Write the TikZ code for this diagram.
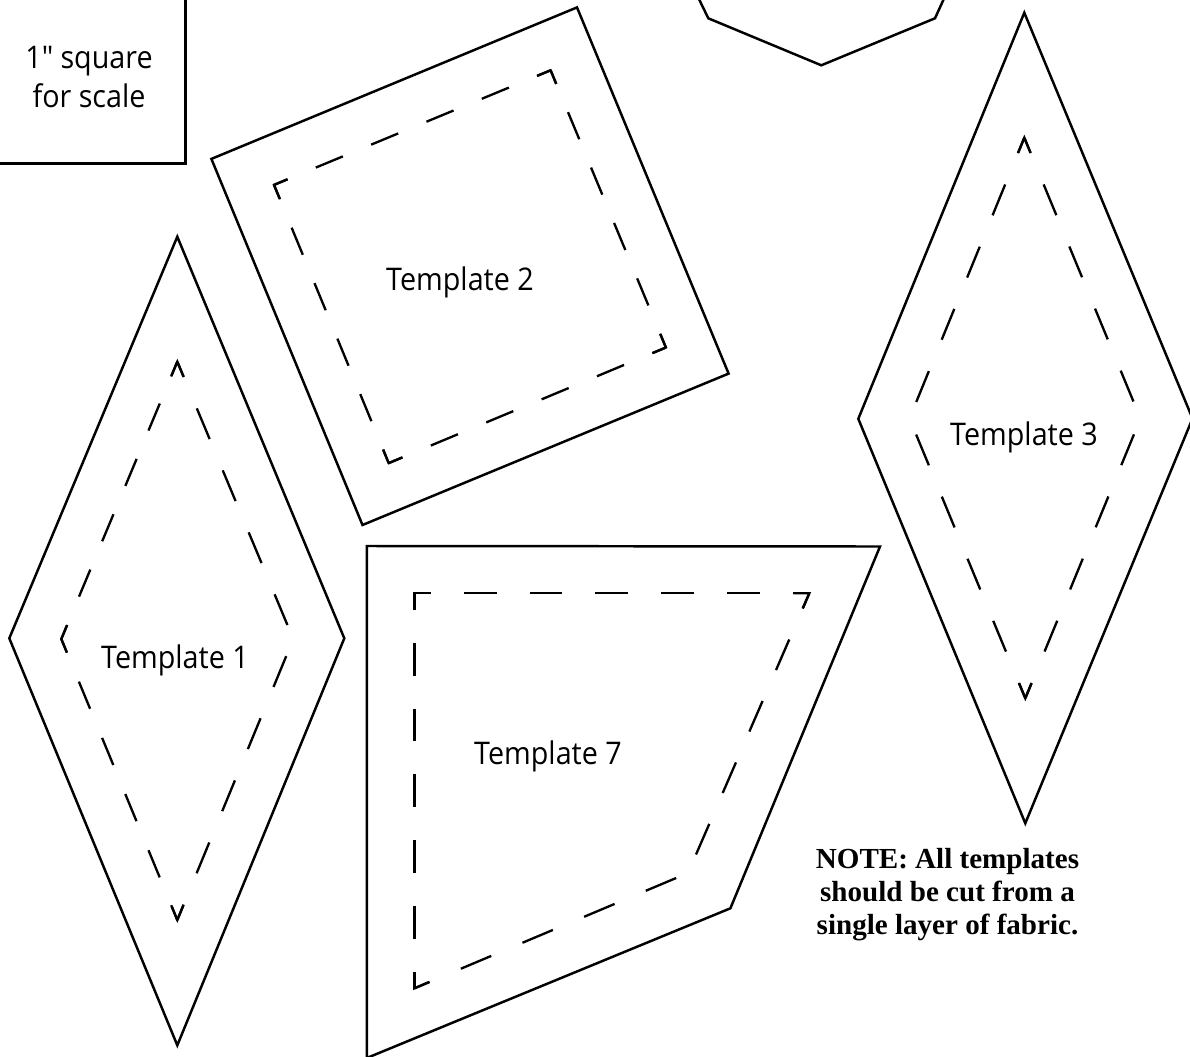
\documentclass[tikz,border=0pt]{standalone}
\usepackage{fontspec}
\usetikzlibrary{calc}
\setmainfont[FakeStretch=0.92]{Open Sans}
\newfontfamily\notefont{Liberation Serif}
\tikzset{
  outline/.style={draw=black,line width=1.85pt,miter limit=10,line join=miter},
  seamline/.style={draw=black,line width=1.75pt,line cap=butt},
  seamtick/.style={draw=black,line width=1.75pt,line cap=butt,line join=miter,miter limit=10},
  label/.style={anchor=base,inner sep=0pt,font=\fontsize{23.4pt}{28pt}\selectfont,text=black},
  notetext/.style={anchor=base,inner sep=0pt,font=\notefont\bfseries\fontsize{21.8pt}{25pt}\selectfont,text=black}
}
\newcommand\seamedge[4]{%
  \pgfmathsetmacro\seamon{#4*.75}%
  \pgfmathsetmacro\seamoff{(#3-#4)*.75}%
  \pgfmathsetmacro\seamph{#4*.375}%
  \draw[seamline,dash pattern=on \seamon pt off \seamoff pt,dash phase=\seamph pt] (#1) -- (#2);}
\newcommand\seamcorner[4]{%
  \draw[seamtick] ($(#2)!#4pt!(#1)$) -- (#2) -- ($(#2)!#4pt!(#3)$);}
\begin{document}
\begin{tikzpicture}[x=0.75pt,y=-0.75pt]
\clip (0,0) rectangle (1190,1057);
\fill[white] (0,0) rectangle (1190,1057);

% 1 inch square
\coordinate (sqa) at (-5,163.3);
\coordinate (sqb) at (185.3,163.3);
\coordinate (sqc) at (185.3,-5);
\draw[outline] (sqa) -- (sqb) -- (sqc);
\node[label] (sq1) at (89,68.8) {1″ square};
\node[label] (sq2) at (89,107) {for scale};

% partial shape at top
\coordinate (oa) at (697,-5);
\coordinate (ob) at (708.3,18.3);
\coordinate (oc) at (821.3,65.3);
\coordinate (od) at (935,18.3);
\coordinate (oe) at (945.6,-5);
\draw[outline] (oa) -- (ob) -- (oc) -- (od) -- (oe);

% Template 2
\coordinate (b1) at (577,7.4);
\coordinate (b2) at (728.6,373.6);
\coordinate (b3) at (362.5,525);
\coordinate (b4) at (211.4,158.9);
\draw[outline] (b1) -- (b2) -- (b3) -- (b4) -- cycle;
\coordinate (bi1) at (274,184.9);
\coordinate (bi2) at (550.6,70.3);
\coordinate (bi3) at (665.9,347.5);
\coordinate (bi4) at (388.7,463.1);
\seamedge{bi1}{bi2}{59.9}{29.3}
\seamedge{bi2}{bi3}{60}{29.3}
\seamedge{bi3}{bi4}{60}{29.3}
\seamedge{bi4}{bi1}{60}{29.3}
\seamcorner{bi4}{bi1}{bi2}{11}
\seamcorner{bi1}{bi2}{bi3}{11}
\seamcorner{bi2}{bi3}{bi4}{11}
\seamcorner{bi3}{bi4}{bi1}{11}
\node[label] (t2) at (460,290.5) {Template 2};

% Template 1
\coordinate (a1) at (177.3,236.7);
\coordinate (a2) at (344.3,638.3);
\coordinate (a3) at (177.3,1045.3);
\coordinate (a4) at (9.3,638.3);
\draw[outline] (a1) -- (a2) -- (a3) -- (a4) -- cycle;
\coordinate (ai1) at (177.3,361.7);
\coordinate (ai2) at (293.3,639);
\coordinate (ai3) at (177.3,920);
\coordinate (ai4) at (61.3,639);
\seamedge{ai1}{ai4}{60}{29.3}
\seamedge{ai3}{ai4}{60.8}{29.3}
\seamedge{ai1}{ai2}{67.2}{33.3}
\seamedge{ai3}{ai2}{67.2}{33.3}
\seamcorner{ai4}{ai1}{ai2}{12}
\seamcorner{ai2}{ai3}{ai4}{12}
\seamcorner{ai1}{ai4}{ai3}{11}
\node[label] (t1) at (175,668) {Template 1};

% Template 3
\coordinate (c1) at (1024.3,12.7);
\coordinate (c2) at (1192.5,418.5);
\coordinate (c3) at (1025.3,823.3);
\coordinate (c4) at (858.3,418.8);
\draw[outline] (c1) -- (c2) -- (c3) -- (c4) -- cycle;
\coordinate (ci1) at (1024.3,137.7);
\coordinate (ci2) at (1140.5,418.5);
\coordinate (ci3) at (1025.3,698.3);
\coordinate (ci4) at (909.5,418.5);
\seamedge{ci1}{ci2}{67.2}{33.3}
\seamedge{ci1}{ci4}{67.2}{33.3}
\seamedge{ci3}{ci2}{67.2}{33.3}
\seamedge{ci3}{ci4}{67.2}{33.3}
\seamcorner{ci4}{ci1}{ci2}{12}
\seamcorner{ci2}{ci3}{ci4}{12}
\node[label] (t3) at (1024,445.5) {Template 3};

% Template 7
\coordinate (d1) at (366.8,546);
\coordinate (d2) at (880,546.5);
\coordinate (d3) at (730.4,908.3);
\coordinate (d4) at (366.8,1058);
\draw[outline] (d1) -- (d2) -- (d3) -- (d4) -- cycle;
\coordinate (di1) at (414.4,593.3);
\coordinate (di2) at (809.3,593.3);
\coordinate (di3) at (688,873);
\coordinate (di4) at (414.4,988.3);
\seamedge{di1}{di2}{65.8}{32.8}
\seamedge{di1}{di4}{65.8}{32.8}
\seamedge{di2}{di3}{67}{33.3}
\seamedge{di4}{di3}{66.9}{33}
\seamcorner{di4}{di1}{di2}{12}
\seamcorner{di1}{di4}{di3}{12}
\draw[seamtick] ($(di2)!12pt!(di1)$) -- (di2) -- ($(di2)!12pt!(di3)$);
\node[label] (t7) at (548,764) {Template 7};

% Note
\node[notetext] (n1) at (947.5,868.6) {NOTE: All templates};
\node[notetext] (n2) at (947.5,901.8) {should be cut from a};
\node[notetext] (n3) at (947.5,934.8) {single layer of fabric.};
\end{tikzpicture}
\end{document}
